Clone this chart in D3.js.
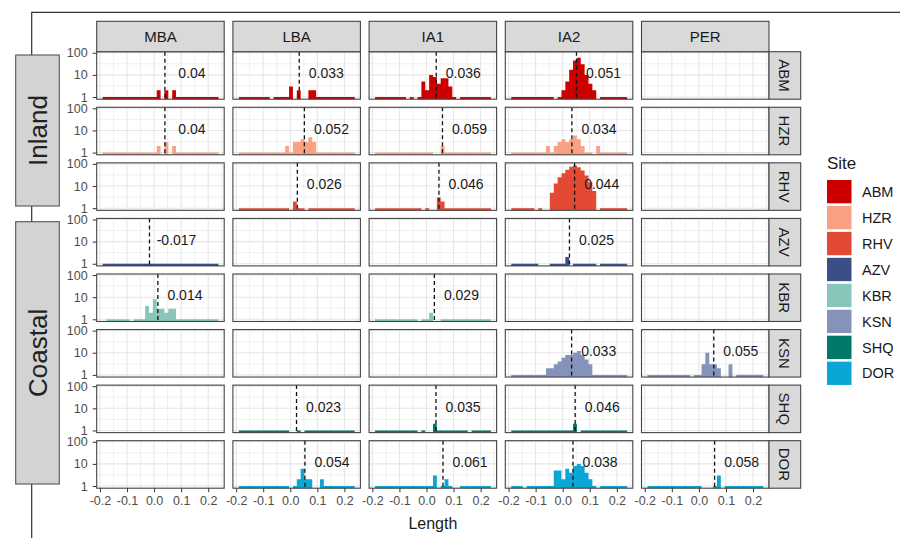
<!DOCTYPE html>
<html>
<head>
<meta charset="utf-8">
<script src="https://cdn.jsdelivr.net/npm/d3@7"></script>
<style>
  body { margin: 0; background: #fff; }
  svg { display: block; font-family: "Liberation Sans", Arial, Helvetica, sans-serif; }
</style>
</head>
<body>
<svg id="chart" width="900" height="538"></svg>
<script>
// ---- data ---------------------------------------------------------------
const periods = ["MBA", "LBA", "IA1", "IA2", "PER"];
const sites = ["ABM", "HZR", "RHV", "AZV", "KBR", "KSN", "SHQ", "DOR"];
const siteColors = ["#cc0000", "#f9a283", "#e34a33", "#3c4e87", "#88c5ba", "#8592ba", "#00796b", "#0aa6d4"];
const regionNames = ["Inland", "Coastal"];

// histogram bins of Length (30 bins)
const binStart = -0.19;
const binWidth = 0.014267;
const xTicks = [-0.2, -0.1, 0.0, 0.1, 0.2];
const yTicks = [1, 10, 100];

// counts per bin, one list per period (null = no data for that period)
const countsABM = [
  [1,1,1,1,1,1,1,1,1,1,1,1,1,1,2,0,2,0,2,1,1,1,1,1,1,1,1,1,1,1],
  [1,1,1,1,1,1,1,1,0,1,1,1,1,3,0,2,0,0,2,2,1,1,1,1,1,1,1,1,1,1],
  [1,1,1,1,1,1,1,1,0,1,0,1,5,2,10,8,4,7,7,3,1,0,1,1,1,1,1,1,1,1],
  [1,1,1,1,1,1,1,1,1,1,1,0,1,2,5,17,45,60,30,10,4,2,0,1,1,1,1,1,1,1],
  null
];
const countsHZR = [
  [1,1,1,1,1,1,1,1,1,1,1,1,1,1,2,0,3,0,2,1,1,1,1,1,1,1,1,1,1,1],
  [1,1,1,1,1,1,1,1,1,1,1,1,2,1,3,3,4,3,5,3,1,1,1,1,1,1,1,1,1,1],
  [1,1,1,1,1,1,1,1,1,1,1,1,1,1,1,0,0,2,1,1,1,1,1,1,1,1,1,1,1,1],
  [1,1,1,1,1,1,1,1,1,2,1,2,3,4,3,4,6,4,2,1,1,0,2,1,1,1,1,1,1,1],
  null
];
const countsRHV = [
  null,
  [1,1,1,1,1,1,1,1,1,1,1,1,1,0,2,1,1,0,1,1,1,1,1,1,1,1,1,1,1,1],
  [1,1,1,1,1,1,1,1,1,1,1,1,0,1,0,0,3,2,1,1,1,1,1,1,1,1,1,1,1,1],
  [1,1,1,1,1,1,0,1,0,0,5,13,25,38,55,75,85,70,50,30,15,6,0,1,1,1,1,1,1,1],
  null
];
const countsAZV = [
  [1,1,1,1,1,1,1,1,1,1,1,1,1,1,1,1,1,1,1,1,1,1,1,1,1,1,1,1,1,1],
  null,
  null,
  [1,1,1,1,1,1,1,0,0,0,1,1,1,1,2,0,1,1,1,1,1,1,0,1,1,1,1,1,1,1],
  null
];
const countsKBR = [
  [0,1,1,1,1,1,1,0,1,1,1,4,2,8,3,3,2,3,3,1,1,1,1,1,1,1,1,1,1,1],
  null,
  [1,1,1,1,1,1,1,1,1,1,1,0,1,1,2,0,0,1,1,1,1,1,1,1,1,1,1,1,1,1],
  null,
  null
];
const countsKSN = [
  null,
  null,
  null,
  [1,1,1,1,1,1,1,1,1,2,2,3,4,6,8,8,10,12,8,5,3,1,1,1,1,1,1,1,1,1],
  [1,1,1,1,1,1,1,1,1,1,1,0,1,1,3,10,3,3,2,0,0,3,0,1,1,1,1,1,1,1]
];
const countsSHQ = [
  null,
  [1,1,1,1,1,1,1,1,1,1,1,1,1,0,0,1,0,1,1,1,1,1,1,1,1,1,1,1,1,1],
  [1,1,1,1,1,1,1,1,1,1,1,0,1,0,0,2,1,1,1,1,1,1,1,1,0,1,1,1,1,1],
  [1,1,1,1,1,1,1,1,1,1,1,1,1,1,1,1,2,0,1,1,1,1,1,1,1,1,1,1,1,1],
  null
];
const countsDOR = [
  null,
  [1,1,1,1,1,1,1,1,1,1,1,1,1,0,1,2,6,2,2,0,0,2,1,1,1,1,1,1,1,1],
  [1,1,1,1,1,1,1,1,1,1,1,1,1,1,1,3,0,1,2,1,0,0,1,1,1,1,1,1,1,1],
  [1,1,1,0,1,1,1,1,1,1,1,5,5,2,6,4,8,10,8,4,2,1,0,1,1,1,1,1,1,1],
  [1,1,1,1,1,1,1,1,1,1,1,1,1,1,0,0,0,1,3,0,1,1,1,1,1,1,1,1,1,1]
];
const siteCounts = [countsABM, countsHZR, countsRHV, countsAZV, countsKBR, countsKSN, countsSHQ, countsDOR];

// mean Length per site (rows) and period (columns)
const meanLength = [
  [0.04, 0.033, 0.036, 0.051, null],
  [0.04, 0.052, 0.059, 0.034, null],
  [null, 0.026, 0.046, 0.044, null],
  [-0.017, null, null, 0.025, null],
  [0.014, null, 0.029, null, null],
  [null, null, null, 0.033, 0.055],
  [null, 0.023, 0.035, 0.046, null],
  [null, 0.054, 0.061, 0.038, 0.058]
];

// ---- layout -------------------------------------------------------------
const panelX0 = 96.7, panelStepX = 136.2, pw = 127.5;
const panelY0 = 51.7, panelStepY = 55.57, ph = 47.5;
const stripTop = 21.3, stripRightW = 31.7;
const borderCol = "#444444";
const gridCol = "#e6e6e6";
const textDark = "#1a1a1a";
const axisText = "#4d4d4d";

const svg = d3.select("#chart");

const x = d3.scaleLinear().domain([-0.212, 0.259]).range([0, pw]);
const y = d3.scaleLog().domain([Math.pow(10, -0.0975), Math.pow(10, 2.0475)]).range([ph, 0]);

const xMinor = [-0.15, -0.05, 0.05, 0.15, 0.25];
const yMinor = [Math.pow(10, 0.5), Math.pow(10, 1.5)];

// Outline of a run of adjacent non-empty bins as one stepped shape,
// so neighbouring bars join without seams.
function runPath(run) {
  const p = d3.path();
  p.moveTo(x(run[0].x0), ph);
  run.forEach(b => {
    p.lineTo(x(b.x0), y(b.n));
    p.lineTo(x(b.x1), y(b.n));
  });
  p.lineTo(x(run[run.length - 1].x1), ph);
  p.closePath();
  return p.toString();
}

// outer frame lines
svg.append("path")
  .attr("d", "M31.7,538V12.3H900")
  .attr("fill", "none").attr("stroke", "#333").attr("stroke-width", 1.2);

// panels
sites.forEach((site, r) => {
  periods.forEach((period, c) => {
    const px = panelX0 + c * panelStepX;
    const py = panelY0 + r * panelStepY;
    const g = svg.append("g").attr("transform", `translate(${px},${py})`);

    g.append("rect").attr("width", pw).attr("height", ph).attr("fill", "#fff");

    // minor grid
    g.selectAll(".vminor").data(xMinor).join("line")
      .attr("x1", d => x(d)).attr("x2", d => x(d)).attr("y1", 0).attr("y2", ph)
      .attr("stroke", gridCol).attr("stroke-width", 0.6);
    g.selectAll(".hminor").data(yMinor).join("line")
      .attr("x1", 0).attr("x2", pw).attr("y1", d => y(d)).attr("y2", d => y(d))
      .attr("stroke", gridCol).attr("stroke-width", 0.6);
    // major grid
    g.selectAll(".vmajor").data(xTicks).join("line")
      .attr("x1", d => x(d)).attr("x2", d => x(d)).attr("y1", 0).attr("y2", ph)
      .attr("stroke", gridCol).attr("stroke-width", 1.1);
    g.selectAll(".hmajor").data(yTicks).join("line")
      .attr("x1", 0).attr("x2", pw).attr("y1", d => y(d)).attr("y2", d => y(d))
      .attr("stroke", gridCol).attr("stroke-width", 1.1);

    const counts = siteCounts[r][c];
    if (counts) {
      const runs = [];
      let cur = [];
      counts.forEach((n, i) => {
        if (n > 0) cur.push({ n, x0: binStart + i * binWidth, x1: binStart + (i + 1) * binWidth });
        else if (cur.length) { runs.push(cur); cur = []; }
      });
      if (cur.length) runs.push(cur);
      g.selectAll(".hist").data(runs).join("path")
        .attr("d", runPath)
        .attr("fill", siteColors[r]);
    }

    const m = meanLength[r][c];
    if (m !== null) {
      g.append("line")
        .attr("x1", x(m)).attr("x2", x(m)).attr("y1", 0).attr("y2", ph)
        .attr("stroke", "#111").attr("stroke-width", 1.3)
        .attr("stroke-dasharray", "4,3");
      g.append("text")
        .attr("x", x(m + 0.1)).attr("y", y(12))
        .attr("text-anchor", "middle").attr("dominant-baseline", "central")
        .attr("font-size", 14).attr("fill", textDark)
        .text(String(m));
    }

    g.append("rect").attr("width", pw).attr("height", ph)
      .attr("fill", "none").attr("stroke", borderCol).attr("stroke-width", 1.1);

    // y axis on first column
    if (c === 0) {
      const ay = g.append("g").call(
        d3.axisLeft(y).tickValues(yTicks).tickFormat(d => String(d)).tickSize(4).tickPadding(5));
      ay.select(".domain").remove();
      ay.selectAll("line").attr("stroke", "#333");
      ay.selectAll("text").attr("fill", axisText).attr("font-size", 12.5)
        .attr("font-family", "Liberation Sans, Arial, sans-serif");
    }
    // x axis on bottom row
    if (r === sites.length - 1) {
      const ax = g.append("g").attr("transform", `translate(0,${ph})`).call(
        d3.axisBottom(x).tickValues(xTicks).tickFormat(d => d.toFixed(1)).tickSize(4).tickPadding(4));
      ax.select(".domain").remove();
      ax.selectAll("line").attr("stroke", "#333");
      ax.selectAll("text").attr("fill", axisText).attr("font-size", 12.5)
        .attr("font-family", "Liberation Sans, Arial, sans-serif");
    }
  });
});

// column strips
periods.forEach((period, c) => {
  const px = panelX0 + c * panelStepX;
  svg.append("rect").attr("x", px).attr("y", stripTop).attr("width", pw).attr("height", panelY0 - stripTop)
    .attr("fill", "#d9d9d9").attr("stroke", borderCol).attr("stroke-width", 1.1);
  svg.append("text").attr("x", px + pw / 2).attr("y", (stripTop + panelY0) / 2)
    .attr("text-anchor", "middle").attr("dominant-baseline", "central")
    .attr("font-size", 15).attr("fill", textDark).text(period);
});

// row strips
const stripX = panelX0 + (periods.length - 1) * panelStepX + pw;
sites.forEach((site, r) => {
  const py = panelY0 + r * panelStepY;
  svg.append("rect").attr("x", stripX).attr("y", py).attr("width", stripRightW).attr("height", ph)
    .attr("fill", "#d9d9d9").attr("stroke", borderCol).attr("stroke-width", 1.1);
  svg.append("text")
    .attr("transform", `translate(${stripX + stripRightW / 2},${py + ph / 2}) rotate(90)`)
    .attr("text-anchor", "middle").attr("dominant-baseline", "central")
    .attr("font-size", 15).attr("fill", textDark).text(site);
});

// region boxes on the left
const regionBoxes = [[55, 206], [221.7, 484]];
regionNames.forEach((name, i) => {
  const [y0, y1] = regionBoxes[i];
  svg.append("rect").attr("x", 15.7).attr("y", y0).attr("width", 43.6).attr("height", y1 - y0)
    .attr("fill", "#d3d3d3").attr("stroke", "#555").attr("stroke-width", 1.1);
  svg.append("text")
    .attr("transform", `translate(37.8,${(y0 + y1) / 2}) rotate(-90)`)
    .attr("text-anchor", "middle").attr("dominant-baseline", "central")
    .attr("font-size", 26).attr("fill", "#222").text(name);
});

// x axis title
svg.append("text")
  .attr("x", panelX0 + ((periods.length - 1) * panelStepX + pw) / 2).attr("y", 523)
  .attr("text-anchor", "middle").attr("dominant-baseline", "central")
  .attr("font-size", 16).attr("fill", textDark).text("Length");

// legend
const legend = svg.append("g").attr("transform", "translate(827,0)");
legend.append("text").attr("x", 0).attr("y", 163).attr("dominant-baseline", "central")
  .attr("font-size", 17).attr("fill", textDark).text("Site");
sites.forEach((site, i) => {
  const ky = 180 + i * 25.95;
  legend.append("rect").attr("x", 0).attr("y", ky).attr("width", 24.5).attr("height", 23.3)
    .attr("fill", siteColors[i]);
  legend.append("text").attr("x", 35).attr("y", ky + 11.8).attr("dominant-baseline", "central")
    .attr("font-size", 14.5).attr("fill", textDark).text(site);
});
</script>
</body>
</html>
